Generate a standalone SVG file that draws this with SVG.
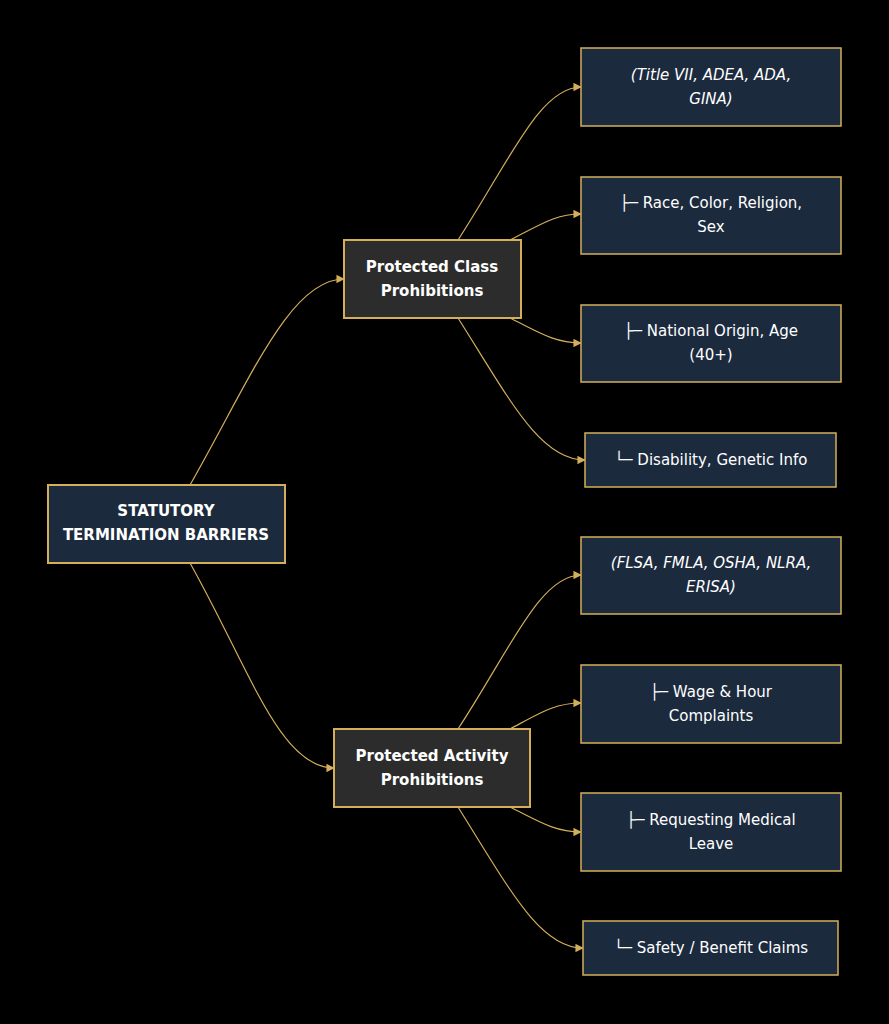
<svg xmlns="http://www.w3.org/2000/svg" width="889" height="1024" viewBox="0 0 889 1024">
<defs>
<marker id="ah" viewBox="0 0 10 10" refX="9" refY="5" markerWidth="7" markerHeight="7" orient="auto"><path d="M0,0L10,5L0,10z" fill="#d4af5a"/></marker>
<style>
.e{fill:none;stroke:#d4af5a;stroke-width:1.2;marker-end:url(#ah)}
.m{fill:#2c2c2c;stroke:#d4af5a;stroke-width:2}
.l{fill:#1c2a3e;stroke:#d4af5a;stroke-width:1.5}
text{font-family:"DejaVu Sans",sans-serif;font-size:15px;fill:#fff;text-anchor:middle}
.b{font-weight:bold}
.i{font-style:italic}
</style>
</defs>
<rect width="889" height="1024" fill="#000"/>
<g id="connectors">
<path class="e" d="M190,485 C250,380 290,279 344,279"/>
<path class="e" d="M190,563 C250,670 280,768 334,768"/>
<path class="e" d="M458,240 C510,160 540,87 581,87"/>
<path class="e" d="M510,240 C540,225 555,214 581,214"/>
<path class="e" d="M510,318 C540,333 555,343 581,343"/>
<path class="e" d="M458,318 C510,400 540,460 585,460"/>
<path class="e" d="M458,729 C510,650 540,575 581,575"/>
<path class="e" d="M510,729 C540,713 555,703 581,703"/>
<path class="e" d="M510,807 C540,822 555,832 581,832"/>
<path class="e" d="M458,807 C510,890 540,948 583,948"/>
</g>
<g id="root"><rect class="m" x="48" y="485" width="237" height="78" fill="#1c2a3e" style="fill:#1c2a3e"/><text class="b" x="166" y="516">STATUTORY</text><text class="b" x="166" y="540">TERMINATION BARRIERS</text></g>
<g id="pc"><rect class="m" x="344" y="240" width="177" height="78"/><text class="b" x="432" y="272">Protected Class</text><text class="b" x="432" y="296">Prohibitions</text></g>
<g id="pa"><rect class="m" x="334" y="729" width="196" height="78"/><text class="b" x="432" y="761">Protected Activity</text><text class="b" x="432" y="785">Prohibitions</text></g>
<g id="l1"><rect class="l" x="581" y="48" width="260" height="78"/><text class="i" x="711" y="80">(Title VII, ADEA, ADA,</text><text class="i" x="711" y="104">GINA)</text></g>
<g id="l2"><rect class="l" x="581" y="177" width="260" height="77"/><text x="711" y="208">├─ Race, Color, Religion,</text><text x="711" y="232">Sex</text></g>
<g id="l3"><rect class="l" x="581" y="305" width="260" height="77"/><text x="711" y="336">├─ National Origin, Age</text><text x="711" y="360">(40+)</text></g>
<g id="l4"><rect class="l" x="585" y="433" width="251" height="54"/><text x="711" y="465">└─ Disability, Genetic Info</text></g>
<g id="l5"><rect class="l" x="581" y="537" width="260" height="77"/><text class="i" x="711" y="568">(FLSA, FMLA, OSHA, NLRA,</text><text class="i" x="711" y="592">ERISA)</text></g>
<g id="l6"><rect class="l" x="581" y="665" width="260" height="78"/><text x="711" y="697">├─ Wage &amp; Hour</text><text x="711" y="721">Complaints</text></g>
<g id="l7"><rect class="l" x="581" y="793" width="260" height="78"/><text x="711" y="825">├─ Requesting Medical</text><text x="711" y="849">Leave</text></g>
<g id="l8"><rect class="l" x="583" y="921" width="255" height="54"/><text x="711" y="953">└─ Safety / Benefit Claims</text></g>
</svg>
